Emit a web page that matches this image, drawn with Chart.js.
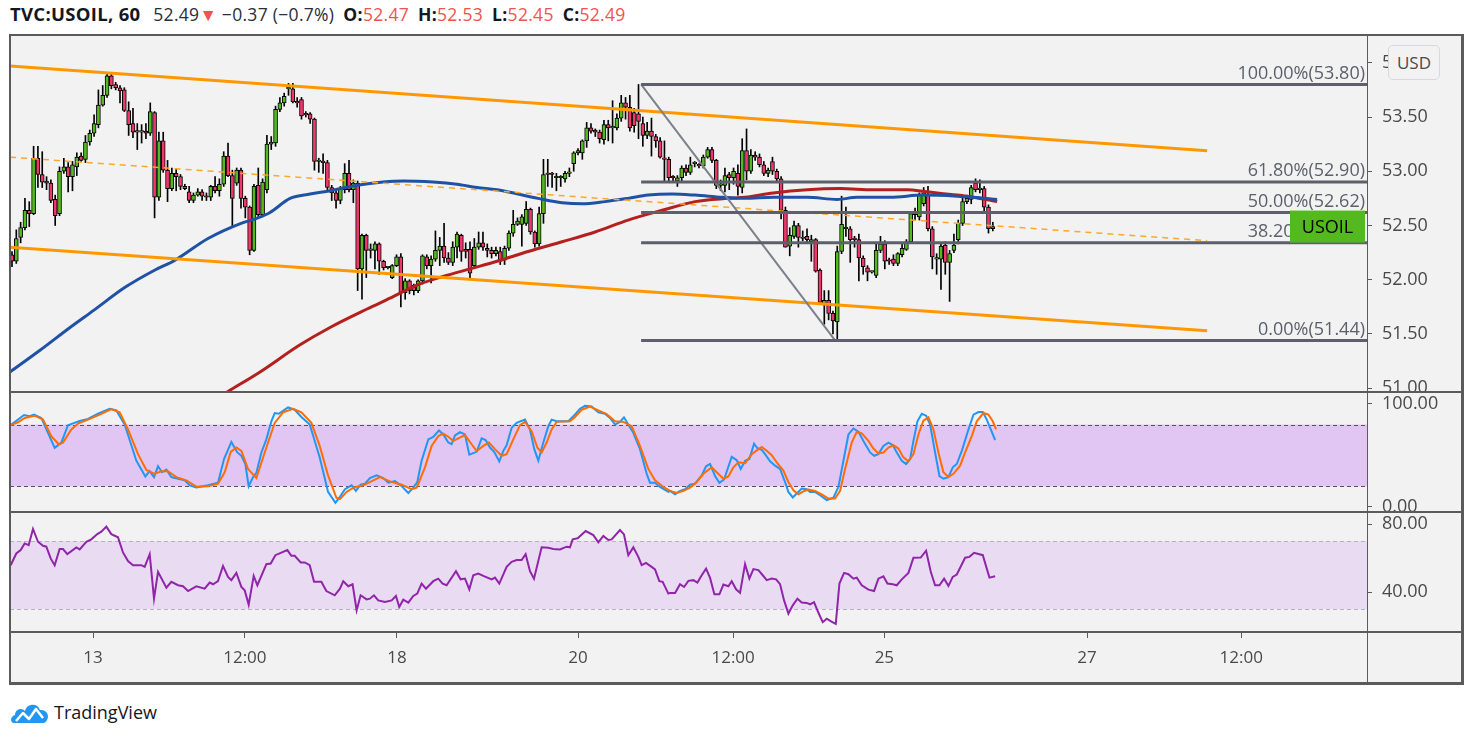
<!DOCTYPE html>
<html>
<head>
<meta charset="utf-8">
<title>TVC:USOIL, 60</title>
<script src="https://cdn.jsdelivr.net/npm/chart.js@4.4.0/dist/chart.umd.min.js"></script>
<style>
  body { margin: 0; background: #fff; width: 1471px; height: 739px; overflow: hidden;
         font-family: "Open Sans", Roboto, sans-serif; color: #131722; }
  #hdr { position: absolute; left: 10px; top: 1px; font-size: 17.5px; letter-spacing: 0.3px; line-height: 26px;
         white-space: nowrap; color: #2a2e39; }
  #hdr b { font-weight: 700; color: #131722; }
  #hdr .title { font-size: 18.5px; margin-right: 8px; }
  #hdr .ohlc { margin-left: 9px; }
  #hdr .r { color: #ef5350; }
  #frame { position: absolute; left: 10px; top: 35px; width: 1453px; height: 648px; background: #f2f2f2; }
  .pane { position: absolute; left: 10px; width: 1453px; }
  .ln { position: absolute; background: #5b5b5b; z-index: 5; }
  #usd { position: absolute; left: 1388px; top: 45px; width: 50px; height: 33px; background: #f2f2f2;
         border: 1px solid #d8d8de; border-radius: 5px; font-size: 17px; line-height: 33px;
         text-align: center; color: #4a4a4a; z-index: 6; }
  #logo { position: absolute; left: 10px; top: 699px; height: 26px; display: flex; align-items: center; }
  #logo span { font-size: 18px; color: #131722; margin-left: 4px; }
</style>
</head>
<body>
<div id="hdr"><b class="title">TVC:USOIL, 60</b> 52.49<span class="r">▼</span> −0.37 (−0.7%)<span class="ohlc"><b>O:</b><span class="r">52.47</span></span><span class="ohlc"><b>H:</b><span class="r">52.53</span></span><span class="ohlc"><b>L:</b><span class="r">52.45</span></span><span class="ohlc"><b>C:</b><span class="r">52.49</span></span></div>
<div id="frame"></div>
<div class="pane" style="top:35px;height:357px"><canvas id="priceChart"></canvas></div>
<div class="pane" style="top:392px;height:120px"><canvas id="stochChart"></canvas></div>
<div class="pane" style="top:512px;height:171px"><canvas id="rsiChart"></canvas></div>
<div class="ln" style="left:9px;top:34px;width:1455px;height:2px"></div>
<div class="ln" style="left:9px;top:391px;width:1455px;height:2px"></div>
<div class="ln" style="left:9px;top:511px;width:1455px;height:2px"></div>
<div class="ln" style="left:9px;top:631px;width:1455px;height:2px"></div>
<div class="ln" style="left:9px;top:682px;width:1455px;height:3px"></div>
<div class="ln" style="left:9px;top:34px;width:2px;height:650px"></div>
<div class="ln" style="left:1461px;top:34px;width:3px;height:650px"></div>
<div class="ln" style="left:1367px;top:35px;width:1px;height:648px"></div>
<div id="usd">USD</div>
<div id="logo">
  <svg width="40" height="26" viewBox="0 0 40 26">
    <path d="M4 24 C0 24 0 17 5 16 C5 10 12 8 15 12 C17 4 28 4 30 11 C36 10 40 16 37 21 C36 23 35 24 33 24 Z" fill="#2196f3"/>
    <polyline points="6,22 13,14 19,20 26,10 33,19" fill="none" stroke="#fff" stroke-width="2.5" stroke-linejoin="round"/>
  </svg>
  <span>TradingView</span>
</div>

<script>
// hourly candles, bar index 0 = first visible bar
const barOpen = [52.23,52.17,52.39,52.48,52.64,52.61,53.12,52.97,52.91,52.89,52.74,52.61,53.00,53.04,52.95,53.04,53.14,53.11,53.27,53.35,
  53.43,53.61,53.70,53.88,53.80,53.77,53.75,53.56,53.44,53.36,53.36,53.37,53.35,53.54,52.76,53.28,53.01,52.84,52.98,52.95,
  52.86,52.81,52.73,52.78,52.81,52.77,52.76,52.86,52.82,52.88,53.14,52.96,52.89,53.01,52.75,52.67,52.27,52.87,52.60,52.83,
  53.25,53.26,53.57,53.63,53.76,53.76,53.64,53.66,53.53,53.53,53.48,53.09,53.09,53.08,52.85,52.80,52.73,52.83,52.98,52.83,
  52.89,52.10,52.41,52.28,52.27,52.33,52.17,52.11,52.02,52.13,52.21,51.88,51.99,51.95,51.90,51.99,52.21,52.13,52.19,52.27,
  52.31,52.20,52.16,52.30,52.41,52.28,52.28,52.13,52.30,52.34,52.29,52.27,52.24,52.26,52.18,52.29,52.43,52.51,52.51,52.52,
  52.65,52.44,52.33,52.61,52.97,52.98,52.94,52.94,52.93,52.98,53.07,53.17,53.17,53.28,53.40,53.38,53.36,53.29,53.43,53.40,
  53.40,53.49,53.63,53.59,53.54,53.53,53.44,53.33,53.37,53.32,53.28,53.12,53.11,52.95,52.91,52.94,53.03,52.99,53.07,53.06,
  53.05,53.13,53.20,53.10,52.87,52.87,52.97,52.94,52.98,52.85,53.19,53.00,53.15,53.13,53.06,52.98,53.09,53.00,52.93,52.64,
  52.31,52.40,52.50,52.38,52.40,52.35,52.37,52.09,51.78,51.81,51.69,51.61,52.26,52.47,52.47,52.38,52.37,52.20,52.11,52.07,
  52.04,52.27,52.33,52.18,52.19,52.15,52.23,52.28,52.35,52.60,52.58,52.70,52.78,52.47,52.19,52.19,52.32,52.16,52.27,52.37,
  52.52,52.72,52.74,52.89,52.83,52.84,52.67,52.47];
const barHigh = [52.26,52.46,52.53,52.75,52.72,53.23,53.23,53.18,52.95,52.92,52.78,53.04,53.12,53.08,53.09,53.17,53.17,53.33,53.38,53.52,
  53.75,53.79,53.90,53.90,53.82,53.79,53.77,53.64,53.58,53.44,53.43,53.44,53.63,53.55,53.36,53.36,53.10,53.03,53.02,52.97,
  52.88,52.86,52.80,52.84,52.83,52.80,52.87,52.95,52.93,53.18,53.26,53.01,53.03,53.03,52.77,52.68,52.88,53.03,52.93,53.33,
  53.32,53.60,53.68,53.72,53.81,53.81,53.68,53.68,53.55,53.54,53.49,53.12,53.16,53.10,52.87,52.82,52.86,53.07,53.10,52.92,
  52.91,52.42,52.42,52.33,52.35,52.34,52.18,52.12,52.14,52.23,52.24,52.01,52.00,51.96,52.00,52.23,52.23,52.22,52.45,52.39,
  52.52,52.25,52.35,52.44,52.42,52.34,52.35,52.38,52.44,52.44,52.33,52.30,52.30,52.30,52.31,52.45,52.64,52.57,52.60,52.72,
  52.66,52.45,52.67,53.11,53.11,52.99,52.98,52.96,53.00,53.03,53.18,53.21,53.29,53.45,53.44,53.39,53.38,53.47,53.47,53.65,
  53.53,53.70,53.68,53.70,53.58,53.80,53.50,53.45,53.49,53.34,53.31,53.28,53.13,52.96,52.96,53.05,53.06,53.13,53.09,53.07,
  53.15,53.22,53.22,53.11,52.92,53.03,52.99,53.03,53.06,53.30,53.39,53.20,53.18,53.16,53.09,53.03,53.13,53.02,52.95,52.67,
  52.48,52.54,52.52,52.45,52.47,52.41,52.38,52.10,51.90,51.90,51.71,52.31,52.77,52.67,52.49,52.40,52.42,52.22,52.13,52.08,
  52.34,52.40,52.36,52.20,52.23,52.25,52.33,52.37,52.62,52.66,52.80,52.85,52.86,52.49,52.24,52.34,52.35,52.27,52.42,52.55,
  52.75,52.78,52.87,52.93,52.92,52.86,52.69,52.53];
const barLow = [52.12,52.15,52.34,52.46,52.49,52.60,52.85,52.85,52.83,52.71,52.50,52.59,52.98,52.81,52.82,52.96,53.09,53.08,53.24,53.32,
  53.40,53.60,53.68,53.76,53.75,53.63,53.55,53.33,53.31,53.20,53.26,53.30,53.33,52.57,52.73,52.99,52.72,52.82,52.82,52.83,
  52.83,52.71,52.71,52.77,52.73,52.73,52.73,52.80,52.77,52.86,52.95,52.49,52.87,52.66,52.57,52.23,52.26,52.58,52.58,52.80,
  53.20,53.23,53.55,53.60,53.70,53.63,53.59,53.48,53.50,53.44,53.01,52.99,52.98,52.83,52.73,52.66,52.70,52.80,52.81,52.71,
  51.90,51.82,52.02,52.20,52.10,52.05,52.09,52.10,52.01,52.12,51.75,51.82,51.87,51.86,51.88,51.96,52.10,51.97,52.17,52.13,
  52.16,52.14,52.13,52.20,52.17,52.20,52.01,52.11,52.28,52.27,52.21,52.20,52.22,52.14,52.14,52.27,52.40,52.50,52.31,52.50,
  52.42,52.30,52.31,52.52,52.86,52.85,52.82,52.86,52.90,52.95,53.00,53.15,53.11,53.22,53.35,53.32,53.26,53.25,53.28,53.26,
  53.38,53.46,53.48,53.37,53.36,53.30,53.23,53.30,53.14,53.22,53.12,52.90,52.90,52.90,52.86,52.91,52.96,52.97,53.04,53.03,
  53.03,53.12,53.08,52.84,52.82,52.81,52.83,52.88,52.78,52.80,52.92,52.98,53.10,53.04,52.96,52.95,52.97,52.91,52.56,52.30,
  52.22,52.38,52.30,52.36,52.35,52.17,52.07,51.78,51.59,51.63,51.50,51.44,52.24,52.40,52.16,52.30,51.99,52.05,51.99,52.06,
  52.02,52.25,52.10,52.14,52.13,52.13,52.21,52.27,52.34,52.55,52.55,52.68,52.45,52.10,52.05,51.91,52.05,51.80,52.25,52.33,
  52.50,52.70,52.70,52.81,52.80,52.62,52.43,52.45];
const barClose = [52.17,52.38,52.48,52.64,52.61,53.12,52.97,52.90,52.89,52.73,52.59,53.00,53.04,52.95,53.06,53.13,53.10,53.27,53.35,53.44,
  53.61,53.70,53.88,53.79,53.77,53.74,53.56,53.43,53.36,53.36,53.36,53.35,53.55,52.76,53.28,53.01,52.84,52.98,52.95,52.86,
  52.84,52.73,52.78,52.81,52.77,52.76,52.86,52.82,52.88,53.14,52.96,52.75,53.01,52.75,52.67,52.27,52.86,52.60,52.90,53.25,
  53.27,53.57,53.63,53.69,53.76,53.64,53.63,53.51,53.52,53.48,53.09,53.09,53.08,52.85,52.80,52.73,52.84,52.98,52.83,52.89,
  52.10,52.41,52.27,52.27,52.33,52.17,52.11,52.11,52.13,52.21,51.88,51.99,51.90,51.90,51.99,52.22,52.13,52.19,52.27,52.31,
  52.20,52.16,52.30,52.42,52.26,52.26,52.06,52.30,52.34,52.30,52.27,52.24,52.27,52.17,52.29,52.43,52.51,52.54,52.58,52.65,
  52.44,52.33,52.61,52.97,52.98,52.97,52.94,52.94,52.98,52.99,53.17,53.19,53.28,53.40,53.37,53.36,53.30,53.43,53.40,53.40,
  53.49,53.63,53.59,53.40,53.42,53.46,53.33,53.37,53.32,53.28,53.13,53.11,52.94,52.94,52.94,53.03,52.99,53.06,53.07,53.05,
  53.13,53.20,53.10,52.87,52.87,52.96,52.94,53.00,52.86,53.19,53.00,53.15,53.13,53.06,52.98,53.01,53.00,52.93,52.64,52.30,
  52.41,52.50,52.39,52.38,52.37,52.37,52.08,51.79,51.81,51.69,51.62,52.26,52.51,52.47,52.37,52.37,52.20,52.12,52.07,52.07,
  52.27,52.33,52.17,52.17,52.15,52.24,52.29,52.35,52.61,52.62,52.78,52.80,52.47,52.21,52.19,52.31,52.16,52.24,52.32,52.52,
  52.72,52.75,52.85,52.83,52.83,52.67,52.47,52.49];

// moving averages: [bar index, price]
const maBlue = [[-0.46,51.15],[6.48,51.35],[13.43,51.56],[18.98,51.72],[26.16,51.93],[33.1,52.09],[37.73,52.18],[45.37,52.38],
  [53.01,52.52],[56.94,52.57],[59.72,52.62],[64.35,52.75],[68.98,52.79],[73.61,52.82],[79.86,52.87],[85.88,52.90],[90.51,52.91],
  [97.45,52.90],[103.0,52.88],[107.64,52.85],[112.27,52.83],[121.76,52.75],[127.31,52.71],[131.94,52.70],[137.27,52.72],
  [142.59,52.75],[147.22,52.78],[152.78,52.79],[158.1,52.78],[164.35,52.76],[169.68,52.75],[176.16,52.76],[184.03,52.76],
  [190.97,52.74],[195.6,52.76],[203.24,52.76],[210.88,52.78],[218.75,52.77],[222.45,52.76],[228.0,52.74]];
const maRed = [[43.5,50.81],[50.0,50.97],[57.41,51.15],[66.67,51.40],[73.61,51.56],[82.18,51.73],[87.5,51.83],[93.75,51.95],
  [99.77,52.03],[106.02,52.10],[112.27,52.17],[119.44,52.26],[127.31,52.35],[134.95,52.44],[142.59,52.55],[150.46,52.64],
  [158.1,52.72],[165.74,52.75],[169.68,52.76],[176.16,52.80],[184.03,52.83],[191.67,52.84],[199.31,52.83],[207.18,52.83],
  [211.81,52.81],[218.75,52.78],[222.45,52.76],[228.0,52.72]];

// drawings: trend channel and fibonacci retracement
const channelTop = [[-0.46,53.97],[276.6,53.19]];
const channelBottom = [[-0.46,52.30],[276.6,51.53]];
const channelMid = [[-0.46,53.13],[276.6,52.36]];
const fibSwing = [[145.6,53.80],[190.5,51.44]];
const fibStart = 145.6;
const fibLevels = [53.80, 52.90, 52.62, 52.34, 51.44];
const fibNames = ["100.00%", "61.80%", "50.00%", "38.20%", "0.00%"];

// stochastic %K / %D and RSI: [bar index, value]
const stochK = [[-0.31,79.4],[2.78,89.3],[4.09,88.0],[5.09,89.6],[6.79,86.4],[9.88,57.4],[11.42,62.5],[12.96,79.4],[15.66,83.5],
  [17.59,85.4],[19.91,90.5],[22.61,95.3],[24.15,93.7],[26.08,80.0],[28.78,44.9],[30.86,29.6],[31.87,34.7],[32.87,29.0],[33.8,39.5],
  [34.72,33.7],[35.73,36.3],[36.88,29.0],[38.43,27.4],[39.97,25.8],[41.13,21.0],[42.67,18.8],[45.37,21.0],[47.68,23.5],[49.07,46.5],
  [50.77,63.1],[52.16,52.9],[53.09,49.7],[54.01,41.7],[54.78,20.0],[55.79,29.0],[56.56,33.1],[57.72,52.9],[58.87,65.6],[60.03,83.2],
  [60.8,91.2],[61.73,90.5],[63.89,96.6],[65.43,94.4],[66.98,87.3],[68.91,80.0],[71.22,48.1],[73.15,14.6],[74.85,4.1],
  [75.9,9.8],[77.06,17.2],[78.6,21.0],[79.6,15.6],[80.68,21.6],[81.69,22.6],[82.84,28.0],[84.39,30.6],[85.93,28.0],[87.09,23.5],
  [88.63,25.1],[90.17,20.3],[91.72,13.6],[92.88,18.8],[93.8,24.2],[94.8,44.9],[96.35,65.6],[97.5,67.9],[98.82,74.3],[99.82,70.4],
  [100.98,62.5],[101.75,60.9],[102.52,69.5],[103.68,72.7],[104.84,70.4],[105.84,50.7],[107.54,53.5],[108.69,66.6],[109.62,65.0],
  [110.62,57.7],[111.55,53.8],[112.78,44.3],[113.71,54.5],[114.48,59.9],[115.64,76.8],[116.8,81.6],[118.72,84.8],[119.88,75.2],
  [120.88,56.1],[121.81,44.9],[122.97,62.5],[124.12,78.4],[124.9,84.8],[126.05,83.2],[128.76,83.2],[129.91,88.0],[131.46,95.3],
  [132.61,98.2],[134.16,97.5],[135.7,91.8],[137.24,90.5],[138.4,86.4],[139.56,80.0],[140.71,82.6],[141.64,87.0],[142.64,80.0],
  [143.8,72.0],[145.34,56.1],[146.89,32.2],[147.66,23.5],[148.82,23.5],[149.97,19.4],[151.9,14.6],
  [152.3,15.6],[153.46,12.4],[154.61,15.6],[155.77,17.2],[156.93,21.6],[158.09,22.6],[159.63,30.6],[160.63,39.5],[161.56,41.7],
  [162.72,29.9],[163.72,23.5],[164.8,26.7],[166.57,48.7],[167.73,45.5],[168.66,36.9],[169.66,44.9],[170.66,46.5],[171.74,61.5],
  [172.52,57.0],[173.52,55.4],[174.29,51.3],[175.45,44.3],[176.61,40.1],[177.76,36.9],[178.92,24.2],[179.69,14.6],[180.7,9.2],
  [181.62,13.0],[182.78,17.8],[183.94,17.2],[184.71,14.6],[185.86,14.6],[187.02,11.4],[188.57,6.6],[190.11,8.9],[191.27,19.4],
  [192.42,44.9],[193.58,70.4],[194.74,76.2],[195.9,73.0],[197.05,64.1],[198.6,52.9],[199.52,49.7],[200.52,51.3],[201.68,59.3],
  [202.84,62.5],[203.84,60.2],[204.77,52.9],[205.93,44.9],[206.93,41.7],[207.86,46.5],[208.63,64.1],[209.55,83.2],[210.56,90.5],
  [211.56,88.6],[212.49,80.0],[213.64,52.9],[214.65,29.9],[215.57,27.4],[216.73,29.0],[217.73,38.5],[218.66,41.7],[219.82,54.5],
  [221.36,75.2],[222.52,89.6],[223.67,92.1],[224.68,92.1],[225.6,84.8],[226.53,75.2],[227.53,65.0]];
const stochD = [[-0.31,79.4],[1.39,82.2],[2.93,86.4],[5.25,88.6],[7.18,84.8],[9.11,68.8],[10.8,60.9],[11.8,62.5],[13.74,75.2],
  [15.28,81.0],[17.59,84.8],[20.29,89.6],[22.99,95.0],[24.92,91.8],[26.85,75.2],[29.17,51.3],[31.1,36.0],[33.0,32.2],[34.57,34.7],
  [36.11,34.7],[38.04,29.0],[40.35,25.8],[42.67,19.7],[45.37,20.0],[47.68,22.6],[49.23,33.7],[50.62,53.5],[51.93,57.7],[53.09,54.5],
  [54.63,36.9],[56.56,28.0],[58.49,52.9],[60.8,81.6],[62.73,91.8],[65.05,95.3],[66.98,91.8],[69.29,81.6],[71.22,59.3],[73.15,30.6],
  [75.08,8.9],
  [75.9,7.6],[77.44,14.6],[78.99,18.8],[81.3,21.0],[83.62,25.8],[85.16,29.0],[87.47,24.8],[90.17,21.6],[92.49,17.2],[93.65,18.8],
  [95.58,38.5],[97.12,59.3],[98.66,68.8],[99.82,71.1],[100.98,68.2],[102.13,64.1],[104.84,69.8],[106.38,60.9],[107.54,54.2],
  [109.08,59.3],[110.39,62.5],[111.78,56.1],[113.32,49.7],[114.48,51.3],[116.02,65.6],[117.57,79.4],[118.72,82.6],[120.27,73.6],
  [121.58,57.7],[122.58,52.9],[123.74,62.5],[124.9,75.2],[126.05,82.6],[129.14,83.2],[130.3,87.3],[131.84,94.4],[133.77,97.5],
  [135.7,93.7],[137.63,90.2],[139.56,83.2],[141.49,82.6],[143.42,78.4],[145.34,59.3],[147.27,36.9],[148.82,25.8],[150.75,19.4],
  [152.3,15.6],[153.84,13.6],[155.39,15.6],[156.93,18.8],[158.47,24.2],[160.02,32.2],[161.95,38.5],[163.1,33.7],[164.65,27.4],
  [165.8,29.6],[166.96,38.5],[168.12,43.3],[169.66,42.4],[171.2,51.3],[172.52,55.4],[173.52,58.3],[174.68,54.5],[175.83,50.3],
  [176.99,43.3],[178.53,35.3],[179.69,24.2],[180.85,16.2],[182.01,12.4],[183.16,15.2],[184.32,16.8],[185.86,15.6],[187.41,12.1],
  [188.95,8.2],[190.49,8.2],[191.65,15.6],[192.81,36.9],[194.35,62.5],[195.51,73.0],[196.67,71.4],[198.21,64.1],[199.37,56.7],
  [200.52,51.9],[201.68,52.9],[202.84,57.7],[203.99,59.9],[205.15,56.7],[206.31,48.1],[207.47,44.3],[208.63,51.3],[209.78,70.4],
  [210.94,83.8],[212.1,87.0],[213.26,75.2],[214.41,52.9],[215.57,33.7],[216.73,29.0],[217.89,32.2],[219.43,40.1],[220.59,52.9],
  [222.13,68.8],[223.29,83.2],[224.83,91.2],[225.99,89.6],[226.99,83.2],[227.76,75.2]];
const rsiLine = [[-0.31,55.8],[1.0,62.7],[2.01,64.7],[2.93,68.6],[3.86,67.6],[4.86,77.1],[6.02,69.6],[7.18,67.2],[7.95,66.7],
  [8.95,59.8],[9.88,55.8],[11.03,65.3],[11.8,65.3],[12.81,62.3],[14.89,66.3],[15.66,65.1],[17.21,69.6],[18.36,71.0],[19.75,74.1],
  [20.68,75.5],[21.84,78.5],[22.99,74.1],[24.54,72.2],[25.69,63.3],[26.85,58.2],[28.01,55.8],[29.94,55.8],[30.71,54.8],[31.87,62.3],
  [32.87,36.1],[33.8,51.9],[35.73,42.6],[36.88,46.0],[38.43,44.0],[39.58,43.4],[40.74,40.6],[42.67,43.4],[44.6,42.0],[45.76,45.6],
  [46.53,44.6],[47.68,46.4],[48.84,55.4],[50.0,48.9],[50.77,47.0],[51.93,51.3],[53.09,43.0],[53.86,41.0],[54.78,32.6],[55.94,49.5],
  [56.79,44.0],[58.87,56.4],[59.88,56.8],[60.96,61.7],[63.73,64.7],[64.66,61.3],[65.43,61.3],[66.82,57.4],[67.75,57.4],[68.9,55.8],
  [69.91,46.0],[71.6,46.0],[72.76,40.6],[74.69,38.1],
  [75.9,42.0],[76.67,46.4],[77.83,43.4],[78.83,44.6],[79.76,29.2],[80.68,38.1],[82.07,35.7],[82.84,36.1],[83.77,38.1],[84.77,35.1],
  [86.32,34.1],[87.86,35.1],[88.86,37.7],[89.63,31.2],[90.56,35.5],[91.72,33.8],[92.88,37.7],[93.8,39.1],[94.8,45.0],[95.81,42.0],
  [97.5,46.4],[98.66,47.9],[99.67,45.0],[100.59,44.0],[102.75,52.3],[103.83,47.5],[104.84,47.9],[105.84,41.6],[106.76,49.9],
  [107.92,50.9],[109.08,49.5],[111.01,47.5],[111.78,48.5],[112.78,45.0],[114.48,54.8],[115.64,57.8],[116.8,58.8],[117.95,58.8],
  [118.88,62.3],[119.88,52.3],[120.81,47.9],[122.58,66.3],[124.12,66.1],[125.28,65.3],[126.83,65.1],[128.37,66.7],[129.14,66.3],
  [129.76,71.0],[130.92,71.6],[132.77,75.9],[134.54,73.5],[135.7,69.2],[136.86,73.0],[138.01,70.6],[138.79,71.0],[140.71,76.5],
  [141.64,73.9],[142.64,61.7],[143.8,66.3],[144.96,60.7],[145.73,55.8],[146.73,57.2],[148.04,54.8],[148.82,53.3],[149.82,46.4],
  [150.59,46.0],[151.9,39.1],
  [152.3,39.5],[153.46,39.5],[154.61,44.6],[155.54,43.0],[156.54,46.6],[157.7,47.0],[158.63,45.6],[159.63,49.9],[160.63,53.8],
  [161.56,48.3],[162.56,38.7],[163.72,38.7],[164.65,44.4],[165.8,43.4],[166.57,46.4],[167.58,41.6],[168.5,39.5],[169.66,56.4],
  [170.66,47.9],[171.59,53.5],[172.75,52.9],[173.75,49.9],[174.68,47.0],[175.83,47.9],[176.84,47.5],[177.76,44.6],[178.69,35.1],
  [179.69,27.3],[180.7,32.2],[181.78,36.1],[182.78,33.8],[183.94,33.6],[184.71,32.8],[185.63,34.1],[186.64,27.8],[187.64,22.3],
  [188.57,24.3],[189.57,22.7],[190.65,21.3],[191.5,45.0],[192.58,51.3],[193.58,50.5],[194.74,47.9],[195.51,48.5],[196.67,44.0],
  [198.21,41.4],[199.52,40.6],[200.52,47.9],[201.68,49.3],[202.61,45.0],[203.84,44.6],[204.77,44.0],[205.93,47.5],[207.47,51.3],
  [208.63,60.2],[210.32,60.3],[211.56,64.3],[212.64,51.9],[213.64,44.0],[214.65,44.0],[215.73,47.9],[216.73,43.6],[217.73,48.9],
  [218.66,50.3],[220.59,60.2],[221.59,60.7],[222.67,63.1],[224.68,61.7],[226.22,48.5],[227.53,49.3]];

// axes
const priceTicks = [51.0, 51.5, 52.0, 52.5, 53.0, 53.5, 54.0];
const stochTicks = [0, 100];
const rsiTicks = [40, 80];
const timeTicks = [18.75, 53.9, 89.1, 131.0, 166.9, 201.9, 248.8, 284.5];
const timeLabels = ["13", "12:00", "18", "20", "12:00", "25", "27", "12:00"];
const symbolName = "USOIL";

const X_MIN = -0.46, X_MAX = 313.6;
const AXIS_W = 96;
const GREEN = "#53b91e", RED = "#f0376b", FRAME = "#5b5b5b";
const FONT = "'Open Sans', Roboto, sans-serif";

Chart.defaults.font.family = FONT;
Chart.defaults.color = "#4a4a4a";
Chart.defaults.animation = false;
Chart.defaults.plugins.legend.display = false;
Chart.defaults.plugins.tooltip.enabled = false;
Chart.defaults.elements.point.radius = 0;

const toXY = arr => arr.map(p => ({ x: p[0], y: p[1] }));

function hiddenX() {
  return { type: "linear", min: X_MIN, max: X_MAX, offset: false, display: false };
}

function rightAxis(min, max, ticks) {
  return {
    position: "right", min: min, max: max, offset: false,
    afterBuildTicks: s => { s.ticks = ticks.map(v => ({ value: v })); },
    afterFit: s => { s.width = AXIS_W; s.paddingTop = 0; s.paddingBottom = 0; },
    ticks: { padding: 10, crossAlign: "near", font: { size: 18 }, color: "#4a4a4a",
             callback: v => Number(v).toFixed(2) },
    grid: { drawOnChartArea: false, drawTicks: true, tickLength: 5, color: FRAME, offset: false },
    border: { display: true, color: FRAME, width: 1 }
  };
}

function lineSet(points, color, width, extra) {
  return Object.assign({
    type: "line", data: toXY(points), borderColor: color, borderWidth: width,
    pointRadius: 0, fill: false, tension: 0, order: 1
  }, extra || {});
}

// shaded band between two levels with dashed edges (stochastic / rsi)
const bandPlugin = {
  id: "band",
  beforeDatasetsDraw(chart, args, opts) {
    const { ctx, chartArea: a, scales: { y } } = chart;
    const top = y.getPixelForValue(opts.hi), bot = y.getPixelForValue(opts.lo);
    ctx.save();
    ctx.fillStyle = opts.fill;
    ctx.fillRect(a.left, top, a.right - a.left, bot - top);
    ctx.strokeStyle = opts.line;
    ctx.lineWidth = 1;
    ctx.setLineDash([4, 3]);
    [top, bot].forEach(py => {
      ctx.beginPath();
      ctx.moveTo(a.left, Math.round(py) + 0.5);
      ctx.lineTo(a.right, Math.round(py) + 0.5);
      ctx.stroke();
    });
    ctx.restore();
  }
};

// fib level captions and the symbol tag on the price pane
const fibLabelPlugin = {
  id: "fibLabels",
  afterDatasetsDraw(chart) {
    const { ctx, chartArea: a, scales: { y } } = chart;
    ctx.save();
    ctx.font = "18px " + FONT;
    ctx.fillStyle = "#5d606b";
    ctx.textAlign = "right";
    ctx.textBaseline = "bottom";
    fibLevels.forEach((lvl, i) => {
      ctx.fillText(fibNames[i] + "(" + lvl.toFixed(2) + ")", a.right - 2, y.getPixelForValue(lvl) - 2);
    });
    const last = barClose[barClose.length - 1];
    const cy = y.getPixelForValue(last);
    ctx.fillStyle = GREEN;
    ctx.fillRect(a.right - 77, cy - 16, 75, 32);
    ctx.fillStyle = "#000";
    ctx.textAlign = "center";
    ctx.textBaseline = "middle";
    ctx.font = "18px " + FONT;
    ctx.fillText(symbolName, a.right - 39.5, cy + 1);
    ctx.restore();
  }
};

// price pane
const wickData = barHigh.map((h, i) => ({ x: i, y: [barLow[i], h] }));
const bodyData = barOpen.map((o, i) => ({ x: i, y: [o, barClose[i]] }));
const bodyColors = barOpen.map((o, i) => (barClose[i] >= o ? GREEN : RED));

const priceSets = [];
fibLevels.forEach(lvl => {
  priceSets.push(lineSet([[fibStart, lvl], [X_MAX, lvl]], "#5d606b", 3));
});
priceSets.push(lineSet(fibSwing, "#7e8089", 2));
priceSets.push(lineSet(channelTop, "#ff9800", 3));
priceSets.push(lineSet(channelBottom, "#ff9800", 3));
priceSets.push(lineSet(channelMid, "#ffa726", 1.5, { borderDash: [6, 5] }));
priceSets.push(lineSet(maBlue, "#1f52a5", 3, { order: 2, cubicInterpolationMode: "monotone" }));
priceSets.push(lineSet(maRed, "#b3201d", 3, { order: 2, cubicInterpolationMode: "monotone" }));
priceSets.push({
  type: "bar", data: bodyData, backgroundColor: bodyColors, borderColor: "#000", borderWidth: 1,
  borderSkipped: false, barThickness: 4, minBarLength: 1.5, grouped: false, order: 3
});
priceSets.push({
  type: "bar", data: wickData, backgroundColor: "#000", borderWidth: 0,
  barThickness: 1, grouped: false, order: 4
});

new Chart(document.getElementById("priceChart"), {
  type: "bar",
  data: { datasets: priceSets },
  options: {
    responsive: true, maintainAspectRatio: false,
    layout: { padding: 0 },
    scales: { x: hiddenX(), y: rightAxis(50.965, 54.256, priceTicks) }
  },
  plugins: [fibLabelPlugin]
});

// stochastic pane
new Chart(document.getElementById("stochChart"), {
  type: "line",
  data: {
    datasets: [
      lineSet(stochK, "#2196f3", 2),
      lineSet(stochD, "#ff6d00", 2, { order: 0 })
    ]
  },
  options: {
    responsive: true, maintainAspectRatio: false,
    layout: { padding: 0 },
    scales: { x: hiddenX(), y: rightAxis(-4.9, 111.6, stochTicks) },
    plugins: { band: { lo: 20, hi: 80, fill: "#e1c6f4", line: "#55525d" } }
  },
  plugins: [bandPlugin]
});

// rsi pane with the time axis
const rsiX = {
  type: "linear", min: X_MIN, max: X_MAX, position: "bottom", offset: false,
  afterBuildTicks: s => { s.ticks = timeTicks.map(v => ({ value: v })); },
  afterFit: s => { s.height = 51; s.paddingLeft = 0; s.paddingRight = 0; },
  ticks: { autoSkip: false, maxRotation: 0, padding: 10, font: { size: 17 }, color: "#4a4a4a",
           callback: (v, i) => timeLabels[i] },
  grid: { drawOnChartArea: false, drawTicks: true, tickLength: 6, color: FRAME },
  border: { display: false }
};

new Chart(document.getElementById("rsiChart"), {
  type: "line",
  data: { datasets: [lineSet(rsiLine, "#9025aa", 2)] },
  options: {
    responsive: true, maintainAspectRatio: false,
    layout: { padding: 0 },
    scales: { x: rsiX, y: rightAxis(16.5, 87.1, rsiTicks) },
    plugins: { band: { lo: 30, hi: 70, fill: "#e9dbf2", line: "#b9b0c2" } }
  },
  plugins: [bandPlugin]
});
</script>
</body>
</html>
